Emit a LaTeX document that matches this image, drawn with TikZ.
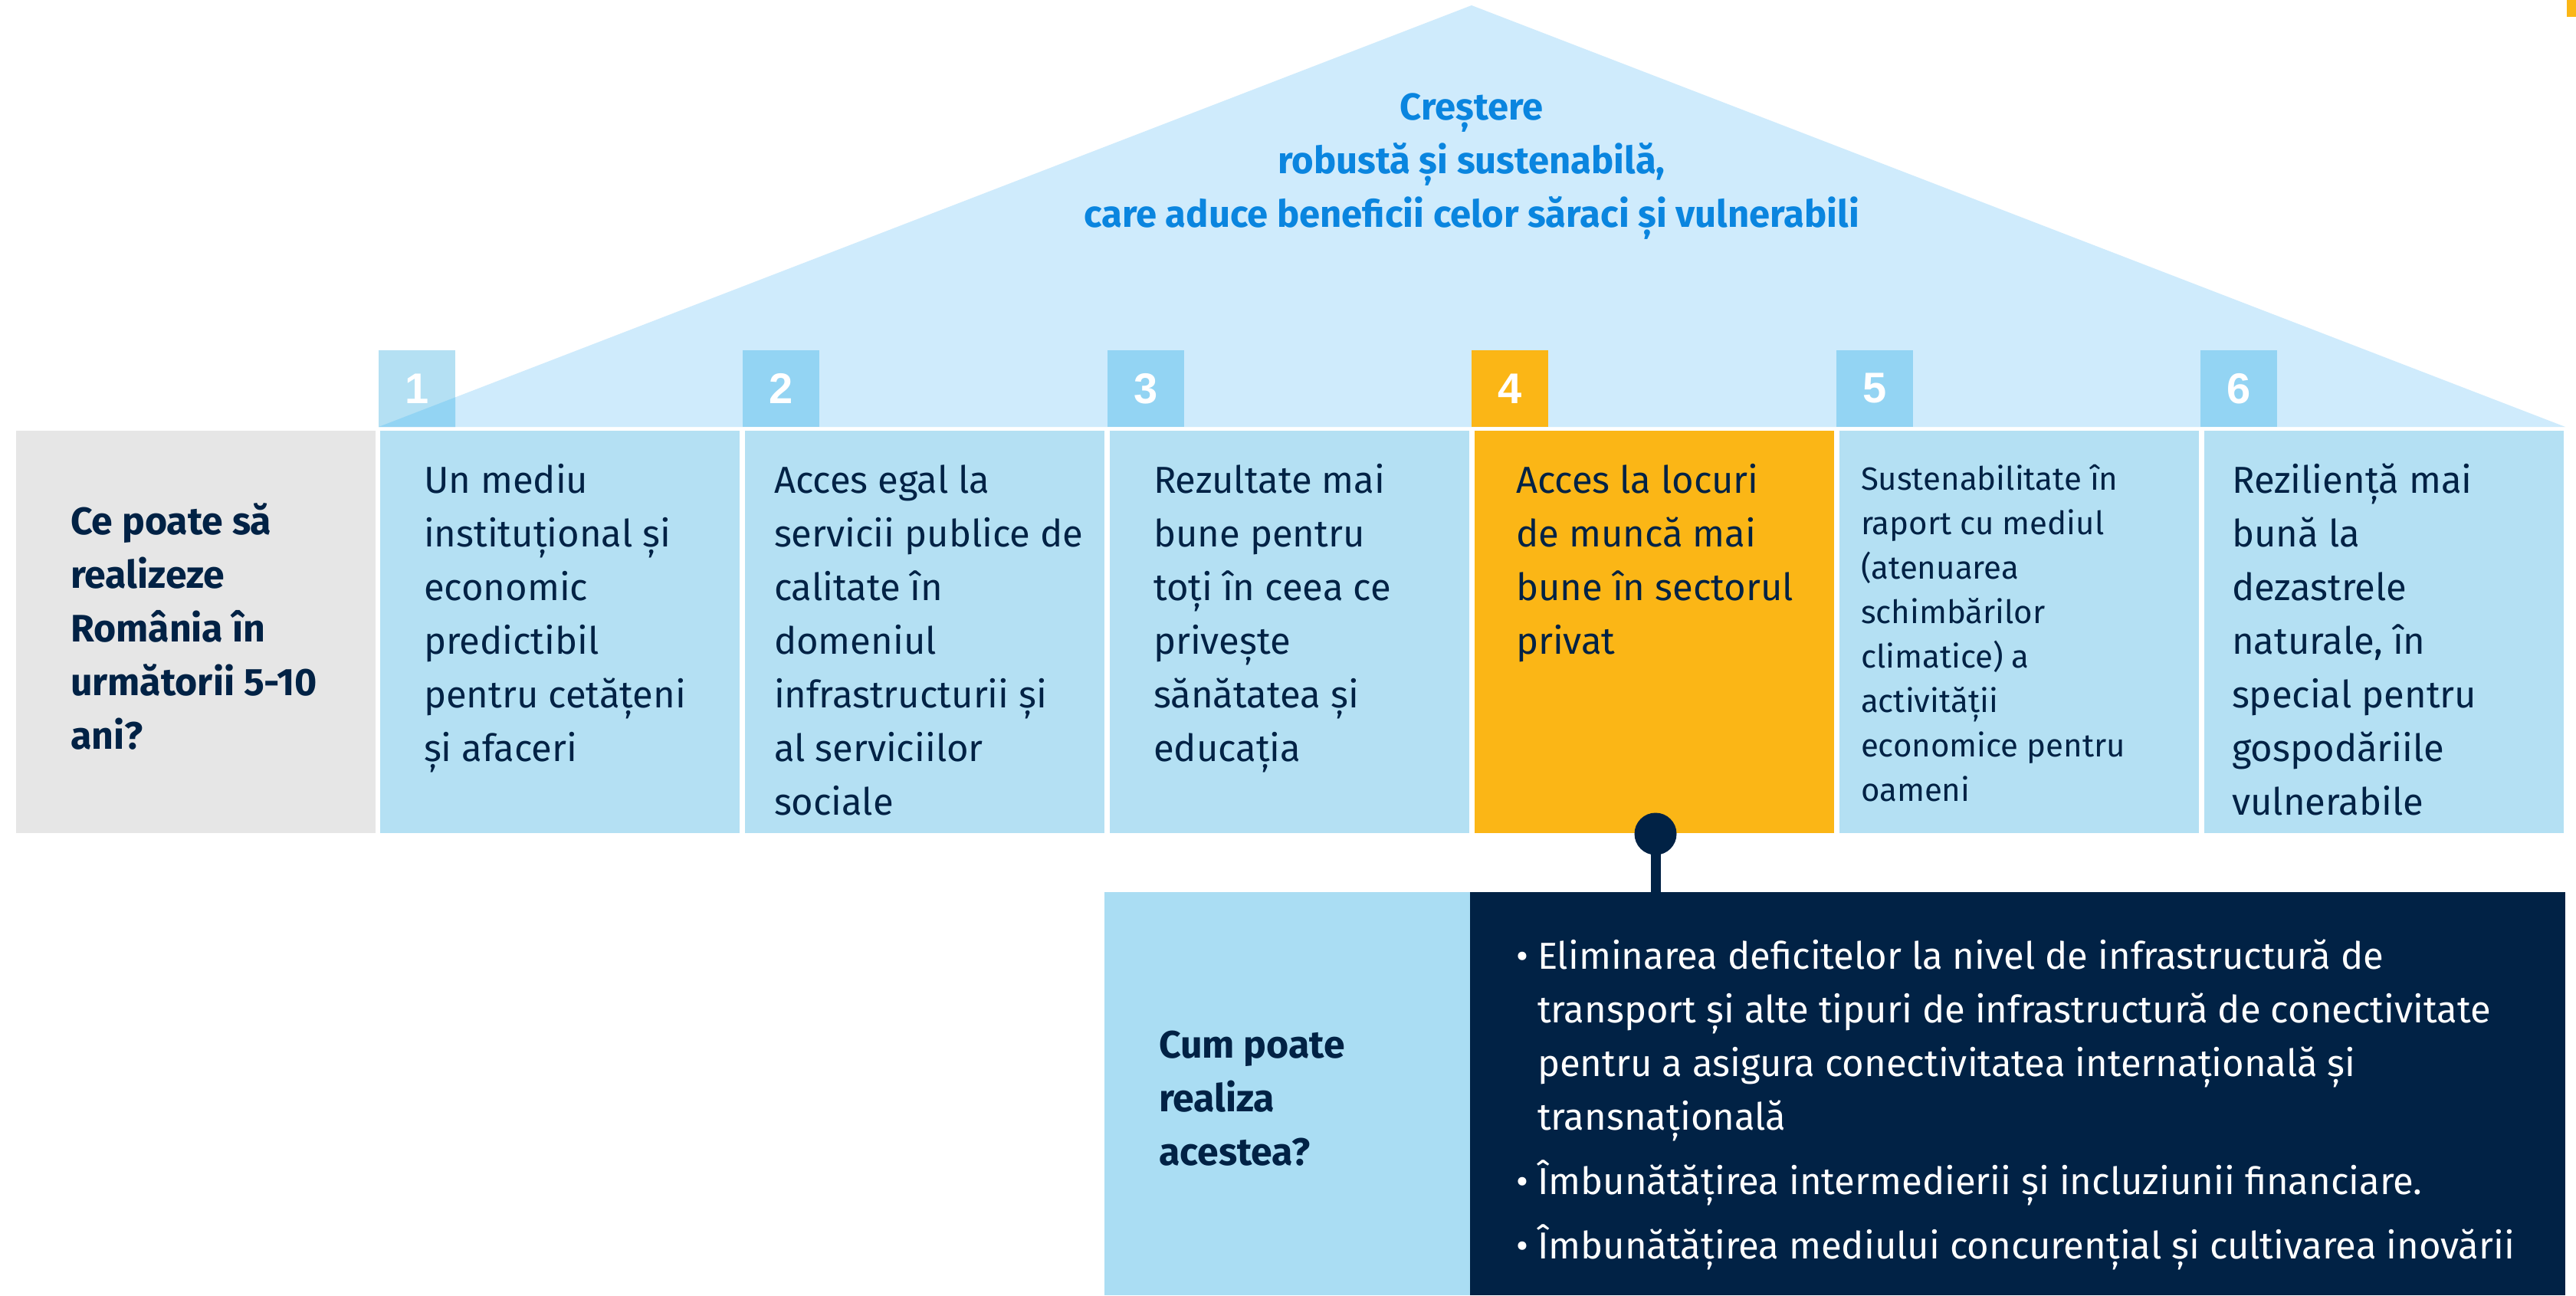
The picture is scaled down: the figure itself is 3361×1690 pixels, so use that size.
\documentclass[tikz,border=0pt]{standalone}
\usepackage{fontspec}
\setmainfont{Fira Sans}
\newfontfamily\numfont{Liberation Sans}
\definecolor{boxblue}{HTML}{B4E0F3}
\definecolor{cumblue}{HTML}{AADDF3}
\definecolor{roofblue}{HTML}{CFEBFC}
\definecolor{tabblue}{HTML}{93D4F3}
\definecolor{navy}{HTML}{012245}
\definecolor{orangeY}{HTML}{FBB616}
\definecolor{greybox}{HTML}{E6E6E6}
\definecolor{titleblue}{HTML}{0A85DF}
\newcommand{\myleft}[1]{\begin{tabular}[t]{@{}l@{}}#1\end{tabular}}
\newcommand{\mycenter}[1]{\begin{tabular}[t]{@{}c@{}}#1\end{tabular}}
\begin{document}
\begin{tikzpicture}[x=0.3pt,y=-0.3pt,
  every node/.style={inner sep=0pt, outer sep=0pt},
  pillar/.style={anchor=north west, minimum width=140.7pt, minimum height=157.5pt},
  tabbox/.style={anchor=north west, minimum width=30pt, minimum height=30pt, text=white,
    font=\numfont\bfseries\fontsize{16.8pt}{20pt}\selectfont},
  bodytext/.style={anchor=base west, text=navy,
    font=\fontsize{14.7pt}{21pt}\selectfont},
  smalltext/.style={anchor=base west, text=navy,
    font=\fontsize{12.6pt}{17.4pt}\selectfont},
  boldtext/.style={anchor=base west, text=navy,
    font=\bfseries\fontsize{15pt}{21pt}\selectfont},
  titletext/.style={anchor=base, text=titleblue,
    font=\bfseries\fontsize{14.7pt}{21pt}\selectfont},
  bullettext/.style={anchor=base west, text=white,
    font=\fontsize{14.7pt}{21pt}\selectfont},
]
\useasboundingbox (0,0) rectangle (3361,1690);
\fill[white] (0,0) rectangle (3361,1690);
% small orange mark top right
\fill[orangeY] (3349,0) rectangle (3361,22);
% roof
\fill[roofblue] (494,557) -- (1920,7) -- (3347,557) -- cycle;
% title
\node[titletext] (title) at (1920,157) {\mycenter{Creștere\\robustă și sustenabilă,\\care aduce beneficii celor săraci și vulnerabili}};
% pillars
\node[pillar, fill=greybox] (b0) at (21,562) {};
\node[pillar, fill=boxblue] (b1) at (496,562) {};
\node[pillar, fill=boxblue] (b2) at (972,562) {};
\node[pillar, fill=boxblue] (b3) at (1448,562) {};
\node[pillar, fill=orangeY] (b4) at (1924,562) {};
\node[pillar, fill=boxblue] (b5) at (2400,562) {};
\node[pillar, fill=boxblue] (b6) at (2876,562) {};
% tabs
\node[tabbox, fill=boxblue] (n1) at (494,457) {};
\fill[tabblue] (494,557) -- (594,557) -- (594,518.4) -- cycle;
\node[text=white, font=\numfont\bfseries\fontsize{16.8pt}{20pt}\selectfont] (d1) at (n1.center) {1};
\node[tabbox, fill=tabblue] (n2) at (969,457) {2};
\node[tabbox, fill=tabblue] (n3) at (1445,457) {3};
\node[tabbox, fill=orangeY] (n4) at (1920,457) {4};
\node[tabbox, fill=tabblue] (n5) at (2396,457) {5};
\node[tabbox, fill=tabblue] (n6) at (2871,457) {6};
% pillar texts
\node[boldtext] (t0) at (92,697) {\myleft{Ce poate să\\realizeze\\România în\\următorii 5-10\\ani?}};
\node[bodytext] (t1) at (553,643) {\myleft{Un mediu\\instituțional și\\economic\\predictibil\\pentru cetățeni\\și afaceri}};
\node[bodytext] (t2) at (1010,643) {\myleft{Acces egal la\\servicii publice de\\calitate în\\domeniul\\infrastructurii și\\al serviciilor\\sociale}};
\node[bodytext] (t3) at (1505,643) {\myleft{Rezultate mai\\bune pentru\\toți în ceea ce\\privește\\sănătatea și\\educația}};
\node[bodytext] (t4) at (1978,643) {\myleft{Acces la locuri\\de muncă mai\\bune în sectorul\\privat}};
\node[smalltext] (t5) at (2428,639) {\myleft{Sustenabilitate în\\raport cu mediul\\(atenuarea\\schimbărilor\\climatice) a\\activității\\economice pentru\\oameni}};
\node[bodytext] (t6) at (2912,643) {\myleft{Reziliență mai\\bună la\\dezastrele\\naturale, în\\special pentru\\gospodăriile\\vulnerabile}};
% bottom boxes
\node[anchor=north west, fill=cumblue, minimum width=143.1pt, minimum height=157.8pt] (cum) at (1441,1164) {};
\node[anchor=north west, fill=navy, minimum width=428.7pt, minimum height=157.8pt] (dark) at (1918,1164) {};
\node[boldtext] (tc) at (1512,1380) {\myleft{Cum poate\\realiza\\acestea?}};
\node[bullettext] (tb) at (1978,1264) {\myleft{\makebox[8.4pt][l]{•}Eliminarea deficitelor la nivel de infrastructură de\\
\hspace*{8.4pt}transport și alte tipuri de infrastructură de conectivitate\\
\hspace*{8.4pt}pentru a asigura conectivitatea internațională și\\
\hspace*{8.4pt}transnațională\\[4.2pt]
\makebox[8.4pt][l]{•}Îmbunătățirea intermedierii și incluziunii financiare.\\[4.2pt]
\makebox[8.4pt][l]{•}Îmbunătățirea mediului concurențial și cultivarea inovării}};
% connector
\node[circle, fill=navy, minimum size=16.5pt] (dot) at (2160,1088) {};
\draw[navy, line width=3.9pt] (dot.center) -- (dot.center |- dark.north);
\end{tikzpicture}
\end{document}
